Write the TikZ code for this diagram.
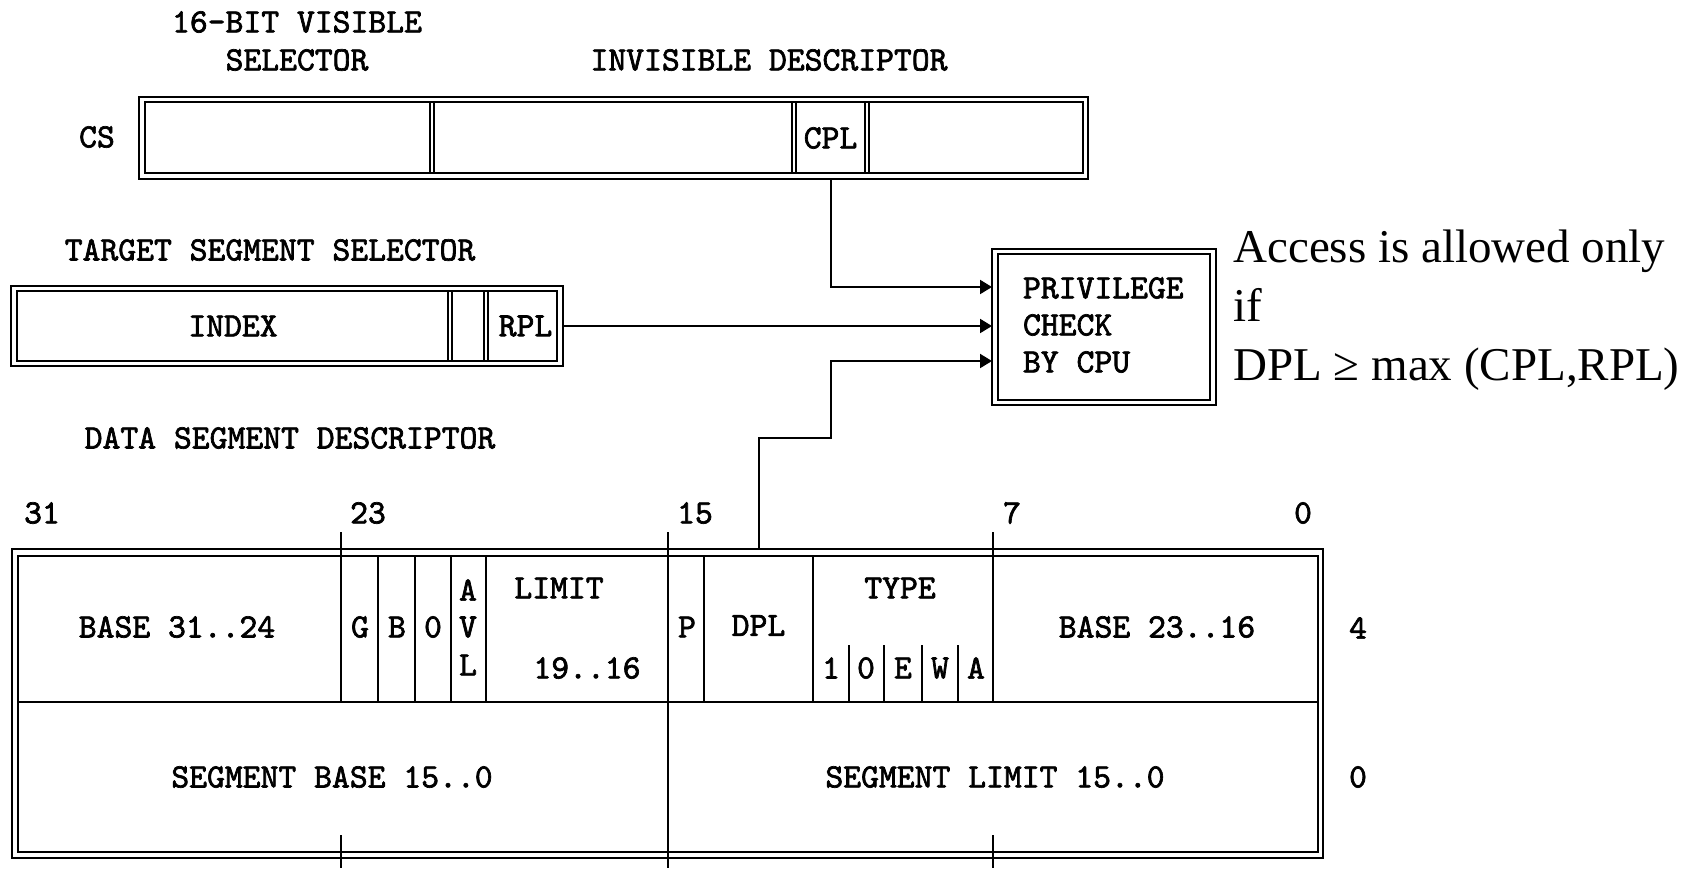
\documentclass[tikz,border=0pt]{standalone}
\usepackage{fontspec}
\newfontfamily\libser{Liberation Serif}
\newfontfamily\monob{lmmono10-regular.otf}[FakeBold=2]
\usetikzlibrary{arrows.meta}
\begin{document}
\begin{tikzpicture}[x=0.5pt,y=-0.5pt,
  lbl/.style={font=\monob\fontsize{17}{18.5}\selectfont, inner sep=0pt, outer sep=0pt},
  frm/.style={line width=1pt},
  dv/.style={line width=0.8pt},
  tk/.style={line width=1pt},
  conn/.style={line width=1pt, -{Triangle[length=6pt,width=7pt]}}]
\useasboundingbox (0,0) rectangle (1700,868);

% ---- CS register ----
\draw[frm] (139,97) rectangle (1088,179);
\draw[frm] (145,102) rectangle (1083,173);
\foreach \x in {430,792,865} \draw[frm] (\x,102) -- (\x,173) (\x+4,102) -- (\x+4,173);
\node[lbl] (t16) at (297,22) {16-BIT VISIBLE};
\node[lbl] (tsel) at (297,60) {SELECTOR};
\node[lbl] (tinv) at (769,60) {INVISIBLE DESCRIPTOR};
\node[lbl] (tcs) at (97,137) {CS};
\node[lbl, minimum width=36pt, minimum height=41pt] (cpl) at (830.5,138) {CPL};

% ---- target segment selector ----
\node[lbl] (ttarget) at (270,250) {TARGET SEGMENT SELECTOR};
\draw[frm] (11,286) rectangle (563,366);
\draw[frm] (17,291) rectangle (557,361);
\draw[frm] (448,291) -- (448,361) (452,291) -- (452,361) (484,291) -- (484,361) (488,291) -- (488,361);
\node[lbl] (tindex) at (233,326) {INDEX};
\node[lbl, minimum width=37.5pt, minimum height=40pt] (rpl) at (525.5,326) {RPL};

% ---- privilege check ----
\draw[frm] (992,249) rectangle (1216,405);
\draw[frm] (998,254) rectangle (1210,400);
\node[lbl, align=left, anchor=west] (priv) at (1023,325) {PRIVILEGE\\CHECK\\BY CPU};
\node[font=\libser\fontsize{23.5}{29.5}\selectfont, align=left, anchor=north west, inner sep=0pt] (acc) at (1233,229) {Access is allowed only\\if\\DPL ≥ max (CPL,RPL)};

% ---- data segment descriptor ----
\node[lbl] (tdata) at (290,438) {DATA SEGMENT DESCRIPTOR};
\node[lbl] (b31) at (42,513) {31};
\node[lbl] (b23) at (368,513) {23};
\node[lbl] (b15) at (695,513) {15};
\node[lbl] (b7) at (1012,513) {7};
\node[lbl] (b0) at (1303,513) {0};

\draw[frm] (12,549) rectangle (1323,858);
\draw[frm] (18,556) rectangle (1318,852);
\draw[dv] (18,702) -- (1318,702);
\foreach \x in {378,415,451,486,704,813} \draw[dv] (\x,556) -- (\x,702);
\foreach \x in {849,884,922,958} \draw[dv] (\x,645) -- (\x,702);
\draw[tk] (341,532) -- (341,702) (668,532) -- (668,868) (993,532) -- (993,702)
          (341,835) -- (341,868) (993,835) -- (993,868);

\node[lbl] (base3124) at (177,627) {BASE 31..24};
\node[lbl] (fg) at (360,627) {G};
\node[lbl] (fb) at (397,627) {B};
\node[lbl] (fz) at (433,627) {0};
\node[lbl] (fa) at (468,590) {A};
\node[lbl] (fv) at (468,627) {V};
\node[lbl] (fl) at (468,665) {L};
\node[lbl] (flim) at (559,588) {LIMIT};
\node[lbl] (flim2) at (587,668) {19..16};
\node[lbl] (fp) at (687,627) {P};
\node[lbl, minimum width=54.5pt, minimum height=76.5pt] (dpl) at (758.5,625.5) {DPL};
\node[lbl] (ftype) at (900,588) {TYPE};
\node[lbl] (t1) at (831,668) {1};
\node[lbl] (t0) at (866,668) {0};
\node[lbl] (te) at (903,668) {E};
\node[lbl] (tw) at (940,668) {W};
\node[lbl] (ta) at (976,668) {A};
\node[lbl] (base2316) at (1157,627) {BASE 23..16};
\node[lbl] (segbase) at (332,777) {SEGMENT BASE 15..0};
\node[lbl] (seglim) at (995,777) {SEGMENT LIMIT 15..0};
\node[lbl] (w4) at (1358,628) {4};
\node[lbl] (w0) at (1358,777) {0};

% ---- connectors ----
\coordinate (in1) at (992,287);
\coordinate (in2) at (992,326);
\coordinate (in3) at (992,361);
\coordinate (bend) at (830.5,438);
\draw[conn] (cpl.south) |- (in1);
\draw[conn] (rpl.east) -- (in2);
\draw[conn] (dpl.north) |- (bend) |- (in3);
\end{tikzpicture}
\end{document}
